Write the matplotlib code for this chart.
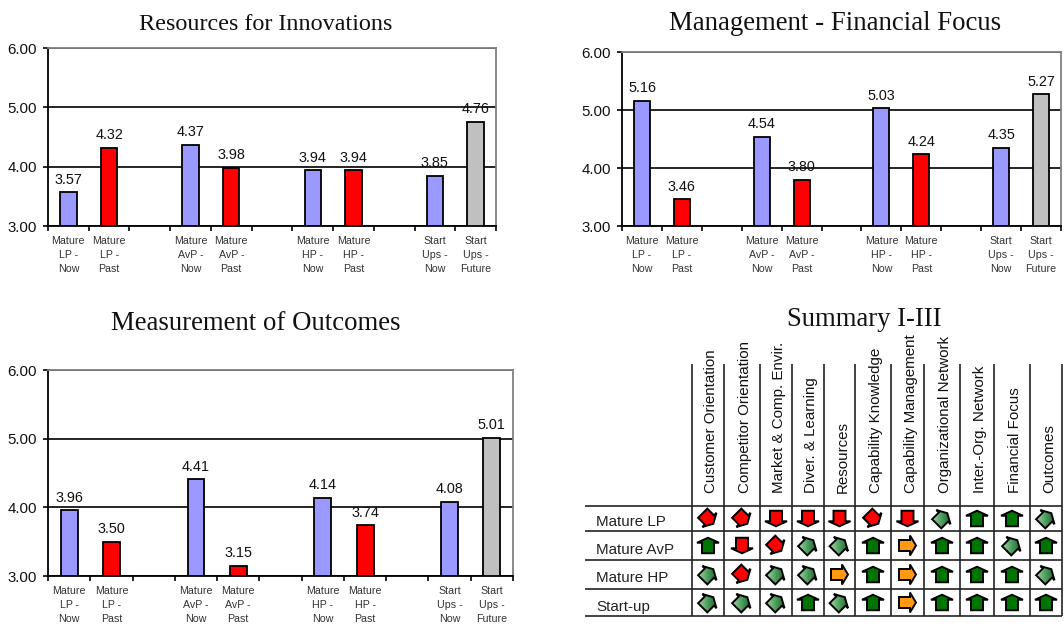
import numpy as np
import matplotlib
matplotlib.use("Agg")
import matplotlib.pyplot as plt
from matplotlib.colors import LinearSegmentedColormap
from matplotlib.patches import Polygon

W, H = 1064, 626

categories = ["Mature\nLP -\nNow", "Mature\nLP -\nPast", "",
              "Mature\nAvP -\nNow", "Mature\nAvP -\nPast", "",
              "Mature\nHP -\nNow", "Mature\nHP -\nPast", "",
              "Start\nUps -\nNow", "Start\nUps -\nFuture"]
resources = [3.57, 4.32, None, 4.37, 3.98, None, 3.94, 3.94, None, 3.85, 4.76]
financial = [5.16, 3.46, None, 4.54, 3.80, None, 5.03, 4.24, None, 4.35, 5.27]
outcomes = [3.96, 3.50, None, 4.41, 3.15, None, 4.14, 3.74, None, 4.08, 5.01]
bar_colors = ["#9999FF", "#FF0000", "white",
              "#9999FF", "#FF0000", "white",
              "#9999FF", "#FF0000", "white",
              "#9999FF", "#C0C0C0"]
y_ticks = [3, 4, 5, 6]

summary_cols = ["Customer Orientation", "Competitor Orientation", "Market & Comp. Envir.",
                "Diver. & Learning", "Resources", "Capability Knowledge",
                "Capability Management", "Organizational Network", "Inter.-Org. Network",
                "Financial Focus", "Outcomes"]
summary_rows = ["Mature LP", "Mature AvP", "Mature HP", "Start-up"]
# u = up, d = down, r = sideways, ne = rising, se = falling
summary = [
    ["se", "se", "d", "d", "d", "se", "d", "ne", "u", "u", "ne"],
    ["u", "d", "se", "ne", "ne", "u", "r", "u", "u", "ne", "u"],
    ["ne", "se", "ne", "ne", "r", "u", "r", "u", "u", "u", "ne"],
    ["ne", "ne", "ne", "u", "ne", "u", "r", "u", "u", "u", "u"],
]

col_edges = [692, 724, 760, 792, 824, 855, 891, 924, 960, 994, 1030, 1062]
row_edges = [506, 531, 560, 589, 616]

plt.rcParams["font.family"] = ["Liberation Sans", "DejaVu Sans"]
fig = plt.figure(figsize=(W / 100, H / 100), dpi=100)


def bar_chart(left, right, top, bottom, title, title_x, title_y, title_size, values):
    ax = fig.add_axes([left / W, 1 - bottom / H, (right - left) / W, (bottom - top) / H])
    x = np.arange(len(categories))
    heights = [np.nan if v is None else v - 3 for v in values]
    ax.bar(x, heights, 0.4, bottom=3, color=bar_colors, edgecolor="black", linewidth=1.3, zorder=3)
    for i, v in enumerate(values):
        if v is not None:
            ax.annotate("%.2f" % v, (i, v), xytext=(0, 4), textcoords="offset points",
                        ha="center", va="bottom", fontsize=10.4, color="#111111", zorder=4)
    ax.set_xlim(-0.5, len(categories) - 0.5)
    ax.set_ylim(3, 6)
    ax.set_yticks(y_ticks)
    ax.set_yticklabels(["%.2f" % t for t in y_ticks], fontsize=10.8, color="#111111")
    ax.grid(axis="y", color="black", linewidth=1.2, zorder=1)
    ax.set_axisbelow(True)
    ax.set_xticks(np.arange(len(categories) + 1) - 0.5)
    ax.set_xticklabels([])
    ax.set_xticks(x, minor=True)
    ax.set_xticklabels(categories, minor=True, fontsize=7.7, color="#333333", linespacing=1.45)
    ax.tick_params(axis="x", which="minor", length=0, pad=7.5)
    ax.tick_params(axis="both", which="major", length=3.5, width=1.2, color="black")
    ax.tick_params(axis="y", pad=4.5)
    for side in ["top", "right"]:
        ax.spines[side].set_color("#808080")
        ax.spines[side].set_linewidth(1.3)
    for side in ["left", "bottom"]:
        ax.spines[side].set_linewidth(1.3)
    fig.text(title_x / W, 1 - title_y / H, title, family="Liberation Serif", fontsize=title_size,
             ha="center", va="center", color="#111111")
    return ax


bar_chart(48, 496, 48, 226, "Resources for Innovations", 266, 24, 17.4, resources)
bar_chart(622, 1061, 52, 226, "Management - Financial Focus", 835, 24, 19.3, financial)
bar_chart(48, 513, 370, 576, "Measurement of Outcomes", 256, 323, 19.3, outcomes)

# summary table, drawn in figure pixels
tb = fig.add_axes([0, 0, 1, 1])
tb.axis("off")
tb.patch.set_alpha(0)

fig.text(864 / W, 1 - 319 / H, "Summary I-III", family="Liberation Serif", fontsize=19.2,
         ha="center", va="center", color="#111111")

for x in col_edges:
    tb.plot([x, x], [364, row_edges[-1]], color="#222222", lw=1.2, solid_capstyle="butt")
for y in row_edges:
    tb.plot([585, col_edges[-1]], [y, y], color="#222222", lw=1.2, solid_capstyle="butt")

col_mid = [(a + b) / 2 for a, b in zip(col_edges[:-1], col_edges[1:])]
row_mid = [(a + b) / 2 for a, b in zip(row_edges[:-1], row_edges[1:])]

for x, name in zip(col_mid, summary_cols):
    tb.text(x + 3, 493, name, rotation=90, ha="center", va="bottom", fontsize=10.9, color="#111111")
for y, name in zip(row_mid, summary_rows):
    tb.text(596, y + 4, name, ha="left", va="center", fontsize=10.9, color="#222222")


def arrow_outline(half_head, half_stem, length, head_len):
    # arrow pointing up, centred on its own middle
    t = -length / 2
    b = length / 2
    n = t + head_len
    return np.array([[0, t], [half_head, n], [half_stem, n], [half_stem, b],
                     [-half_stem, b], [-half_stem, n], [-half_head, n]])


green_fade = LinearSegmentedColormap.from_list("fade", ["#A8DCA8", "#4C9A5C", "#0B5F22"])
arrow_shapes = {
    "u": (arrow_outline(11, 6, 15.5, 5), 0, "#007400"),
    "d": (arrow_outline(11, 6, 15.5, 5), 180, "#FF0000"),
    "r": (arrow_outline(10, 5.5, 17, 6), 90, "#FF9A10"),
    "ne": (arrow_outline(10, 6.5, 15, 5.5), 45, None),
    "se": (arrow_outline(10, 6.5, 15, 5.5), 135, "#FF0000"),
}


def draw_arrow(cx, cy, kind):
    pts, angle, color = arrow_shapes[kind]
    a = np.radians(angle)
    rot = np.array([[np.cos(a), -np.sin(a)], [np.sin(a), np.cos(a)]])
    xy = pts @ rot.T + [cx, cy]
    if color is None:
        patch = Polygon(xy, closed=True, facecolor="none", edgecolor="none", transform=tb.transData)
        tb.add_patch(patch)
        im = tb.imshow(np.linspace(0, 1, 32).reshape(1, -1), cmap=green_fade, aspect="auto",
                       extent=[cx - 11, cx + 11, cy + 11, cy - 11], zorder=3)
        im.set_clip_path(patch)
        color = "none"
    tb.add_patch(Polygon(xy, closed=True, facecolor=color, edgecolor="black", lw=1.4,
                         joinstyle="miter", zorder=4))


for r, row in enumerate(summary):
    for c, kind in enumerate(row):
        draw_arrow(col_mid[c], row_mid[r], kind)

tb.set_xlim(0, W)
tb.set_ylim(H, 0)

fig.savefig("out.png", dpi=100)
